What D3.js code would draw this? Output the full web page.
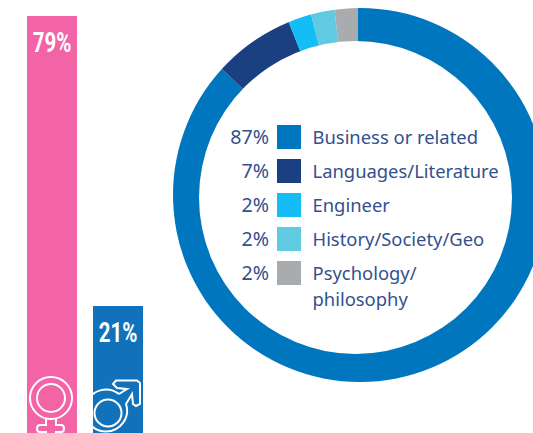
<!DOCTYPE html>
<html>

<head>
    <meta charset="utf-8">
    <title>Gender and study background</title>
    <script type="text/javascript" src="https://d3js.org/d3.v7.min.js"></script>
    <style>
        html, body { margin: 0; padding: 0; background: #fff; overflow: hidden; }
        svg { display: block; }
    </style>
</head>

<body>
<script type="text/javascript">
    var genders = ["Female", "Male"];
    var genderValues = [79, 21];
    var genderColors = ["#f264a6", "#1172bb"];

    var fields = ["Business or related", "Languages/Literature", "Engineer", "History/Society/Geo", "Psychology/|philosophy"];
    var fieldValues = [87, 7, 2, 2, 2];
    var fieldColors = ["#0076bf", "#1a4082", "#14bdf4", "#61cae3", "#a9acae"];

    var w = 533;
    var h = 433;
    var textColor = "#33508f";

    var svg = d3.select("body").append("svg").attr("width", w).attr("height", h);

    // gender bars, they run off the bottom of the page
    var xScale = d3.scaleBand().domain(genders).range([27, 143]).paddingInner(16 / 66).paddingOuter(0);
    var yScale = d3.scaleLinear().domain([0, 79]).range([411, 16]);

    svg.selectAll("rect.bar")
        .data(genders)
        .enter()
        .append("rect")
        .attr("class", "bar")
        .attr("x", function(d) { return xScale(d); })
        .attr("y", function(d, i) { return yScale(genderValues[i]); })
        .attr("width", xScale.bandwidth())
        .attr("height", function(d, i) { return h - yScale(genderValues[i]); })
        .attr("fill", function(d, i) { return genderColors[i]; });

    // no condensed font installed, so squeeze the text sideways
    svg.selectAll("text.barlabel")
        .data(genders)
        .enter()
        .append("text")
        .attr("class", "barlabel")
        .attr("text-anchor", "middle")
        .attr("transform", function(d, i) {
            return "translate(" + (xScale(d) + xScale.bandwidth() / 2) + "," + (yScale(genderValues[i]) + 36) + ") scale(0.76,1)";
        })
        .attr("font-family", "Roboto, sans-serif")
        .attr("font-weight", "bold")
        .attr("font-size", 27)
        .attr("fill", "#fff")
        .text(function(d, i) { return genderValues[i] + "%"; });

    // gender icons, outlined
    svg.append("clipPath").attr("id", "maleclip").append("rect")
        .attr("x", xScale("Male")).attr("y", 300).attr("width", xScale.bandwidth()).attr("height", 133);

    var venus = svg.append("g").attr("fill", "none").attr("stroke", "#fff").attr("stroke-width", 2);
    venus.append("circle").attr("cx", 51).attr("cy", 398).attr("r", 21);
    venus.append("circle").attr("cx", 51).attr("cy", 398).attr("r", 14);
    venus.append("path").attr("d", "M46,419 V425 H40 Q37,425 37,428.5 Q37,432 40,432 H46 V440 M56,419 V425 H61 Q64,425 64,428.5 Q64,432 61,432 H56 V440");

    var mars = svg.append("g").attr("fill", "none").attr("stroke", "#fff").attr("stroke-width", 2)
        .attr("clip-path", "url(#maleclip)");
    mars.append("circle").attr("cx", 108).attr("cy", 413).attr("r", 13.5);
    mars.append("path").attr("d", "M119,394 L127,389 L117,388 L113,384 L116,380.5 L137,380.5 L140,383 L140,404 L136,406 L133,404 L132,394 L126,404 A21,21 0 1 1 119,394");

    // ring, the hole sits a little off centre from the outer edge
    svg.append("clipPath").attr("id", "ringclip").append("circle")
        .attr("cx", 360).attr("cy", 195).attr("r", 187);

    var pie = d3.pie().sort(null)(fieldValues);
    var arc = d3.arc().innerRadius(0).outerRadius(210);

    svg.append("g")
        .attr("clip-path", "url(#ringclip)")
        .append("g")
        .attr("transform", "translate(358,197)")
        .selectAll("path")
        .data(pie)
        .enter()
        .append("path")
        .attr("d", arc)
        .attr("fill", function(d, i) { return fieldColors[i]; });

    svg.append("circle")
        .attr("cx", 355.5)
        .attr("cy", 197.5)
        .attr("r", 156.5)
        .attr("fill", "#fff");

    // legend
    var legendY = d3.scalePoint().domain(fields).range([125, 261]);
    var legend = svg.selectAll("g.legend")
        .data(fields)
        .enter()
        .append("g")
        .attr("class", "legend")
        .attr("transform", function(d) { return "translate(0," + legendY(d) + ")"; })
        .attr("font-family", "'Noto Sans', sans-serif")
        .attr("font-size", 18.4)
        .attr("fill", textColor);

    legend.append("rect")
        .attr("x", 277)
        .attr("width", 24)
        .attr("height", 24)
        .attr("fill", function(d, i) { return fieldColors[i]; });

    legend.append("text")
        .attr("x", 269)
        .attr("y", 19)
        .attr("text-anchor", "end")
        .attr("font-size", 19.6)
        .text(function(d, i) { return fieldValues[i] + "%"; });

    legend.each(function(d) {
        d3.select(this).selectAll("text.name")
            .data(d.split("|"))
            .enter()
            .append("text")
            .attr("class", "name")
            .attr("x", 312.5)
            .attr("y", function(t, i) { return 19 + i * 26; })
            .text(function(t) { return t; });
    });
</script>
</body>
</html>
